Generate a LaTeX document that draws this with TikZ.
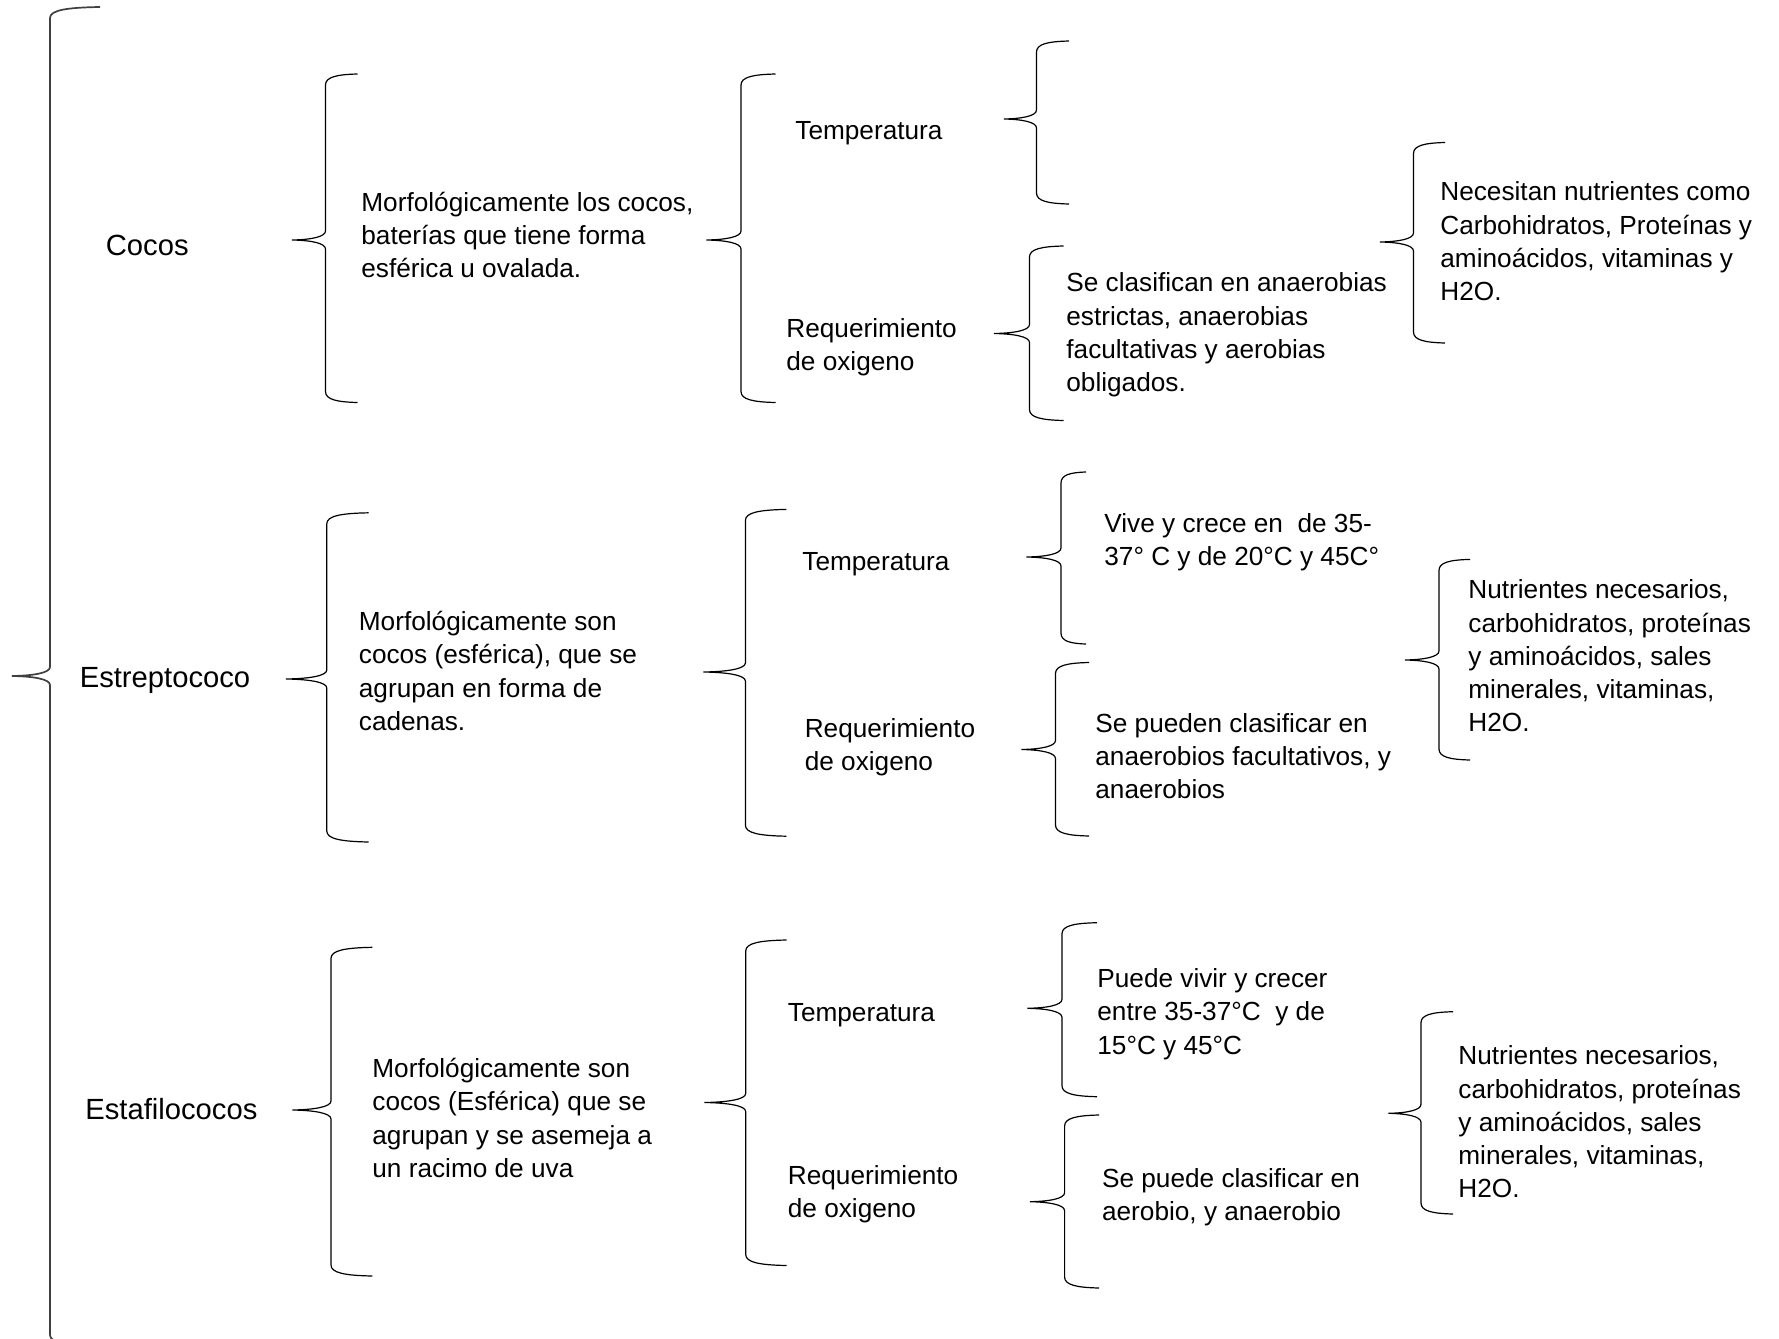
\documentclass[tikz,border=0pt]{standalone}
\usepackage{fontspec}
\setmainfont{Liberation Sans}
\newcommand\txtsize{\fontsize{13.1pt}{16.65pt}\selectfont}
\newcommand\bigsize{\fontsize{14.6pt}{17.5pt}\selectfont}
\newcommand\wbrace[7]{% style, line x, top y, bottom y, tip x, tip y, end x
  \draw[#1] (#7,#3) .. controls ({#2+0.35*(#7-#2)},{#3+0.5}) and (#2,{#3+3}) .. (#2,{#3+11})
    -- (#2,{#6-9})
    .. controls (#2,{#6-3}) and ({#2-0.45*(#2-#5)},{#6-0.3}) .. (#5,#6)
    .. controls ({#2-0.45*(#2-#5)},{#6+0.3}) and (#2,{#6+3}) .. (#2,{#6+9})
    -- (#2,{#4-11})
    .. controls (#2,{#4-3}) and ({#2+0.35*(#7-#2)},{#4-0.5}) .. (#7,#4);}
\tikzset{
  lbl/.style={anchor=west, inner sep=0pt, align=left, font=\txtsize},
  toplbl/.style={anchor=west, inner sep=0pt, align=left, font=\bigsize},
  brc/.style={line width=0.6pt, black},
  bigbrc/.style={line width=0.85pt, black!75}
}
\begin{document}
\begin{tikzpicture}[x=0.5pt,y=-0.5pt]
\useasboundingbox (0,0) rectangle (1779,1339);
% main brace
\wbrace{bigbrc}{50}{7}{1346}{12}{676}{100}
% row 1
\node[toplbl] (cocos) at (105.5,245) {Cocos};
\wbrace{brc}{325.5}{74}{402.5}{292}{240}{357.5}
\node[lbl] (m1) at (361,235) {Morfológicamente los cocos,\\baterías que tiene forma\\esférica u ovalada.};
\wbrace{brc}{741}{74}{402.5}{706.5}{240}{775.5}
\node[lbl] (temp1) at (795,133) {Temperatura};
\node[lbl] (req1) at (786,347) {Requerimiento\\de oxigeno};
\wbrace{brc}{1036.5}{41}{204}{1004}{119}{1069}
\wbrace{brc}{1029.5}{246}{420.5}{994}{333.5}{1063.5}
\node[lbl] (secl) at (1066,335) {Se clasifican en anaerobias\\estrictas, anaerobias\\facultativas y aerobias\\obligados.};
\wbrace{brc}{1413.5}{142.5}{343}{1380}{242}{1445}
\node[lbl] (nec) at (1440,241.5) {Necesitan nutrientes como\\Carbohidratos, Proteínas y\\aminoácidos, vitaminas y\\H2O.};
% row 2
\node[toplbl] (estr) at (79.4,680) {Estreptococo};
\wbrace{brc}{326.8}{512.8}{842}{286}{679}{368.7}
\node[lbl] (m2) at (358.5,671) {Morfológicamente son\\cocos (esférica), que se\\agrupan en forma de\\cadenas.};
\wbrace{brc}{745.4}{509.4}{836.2}{703.5}{672}{786.3}
\node[lbl] (temp2) at (802,564) {Temperatura};
\node[lbl] (req2) at (804.4,747) {Requerimiento\\de oxigeno};
\wbrace{brc}{1061}{472}{644}{1026.5}{557}{1086}
\node[lbl] (vive) at (1104,542) {Vive y crece en~ de 35-\\37° C y de 20°C y 45C°};
\wbrace{brc}{1055.5}{662.5}{836}{1021.5}{749.5}{1089}
\node[lbl] (sep) at (1095,756) {Se pueden clasificar en\\anaerobios facultativos, y\\anaerobios};
\wbrace{brc}{1439}{559.4}{760}{1405}{660}{1470}
\node[lbl] (nut2) at (1468,656) {Nutrientes necesarios,\\carbohidratos, proteínas\\y aminoácidos, sales\\minerales, vitaminas,\\H2O.};
% row 3
\node[toplbl] (esta) at (85,1109) {Estafilococos};
\wbrace{brc}{331}{947.3}{1276}{292.3}{1110}{372.4}
\node[lbl] (m3) at (372,1118) {Morfológicamente son\\cocos (Esférica) que se\\agrupan y se asemeja a\\un racimo de uva};
\wbrace{brc}{745.7}{940}{1265.5}{704.3}{1102.5}{786.5}
\node[lbl] (temp3) at (787.5,1015) {Temperatura};
\node[lbl] (req3) at (787.5,1194) {Requerimiento\\de oxigeno};
\wbrace{brc}{1062}{922.7}{1096.7}{1027.3}{1008.3}{1097}
\node[lbl] (puede) at (1097,1014) {Puede vivir y crecer\\entre 35-37°C~ y de\\15°C y 45°C};
\wbrace{brc}{1064.6}{1115}{1288}{1029.8}{1201.7}{1099}
\node[lbl] (sepc) at (1101.7,1197) {Se puede clasificar en\\aerobio, y anaerobio};
\wbrace{brc}{1421}{1011.7}{1214}{1388.5}{1113.3}{1453}
\node[lbl] (nut3) at (1458,1122) {Nutrientes necesarios,\\carbohidratos, proteínas\\y aminoácidos, sales\\minerales, vitaminas,\\H2O.};
\end{tikzpicture}
\end{document}
